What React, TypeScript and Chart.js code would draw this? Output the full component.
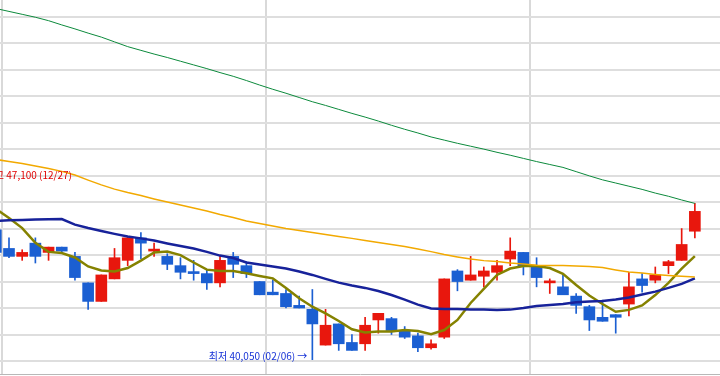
import React, { useEffect, useRef } from "react";
import { Chart, registerables } from "chart.js";
Chart.register(...registerables);

const dates = ["12/27","12/28","12/29","01/02","01/03","01/04","01/05","01/06","01/09","01/10","01/11","01/12","01/13","01/16","01/17","01/18","01/19","01/20","01/25","01/26","01/27","01/30","01/31","02/01","02/02","02/03","02/06","02/07","02/08","02/09","02/10","02/13","02/14","02/15","02/16","02/17","02/20","02/21","02/22","02/23","02/24","02/27","02/28","03/02","03/03","03/06","03/07","03/08","03/09","03/10","03/13","03/14","03/15","03/16","03/17","03/20"];

const opens = [46500,45900,44950,44250,43950,44450,44100,44300,43950,42950,42250,43100,43800,44650,44150,43950,43600,43350,43300,42950,43950,43600,43000,42600,42550,42100,41950,40600,41400,40700,40650,41550,41600,41150,40950,40500,40900,43400,43050,43200,43350,43850,44100,43550,42950,42800,42450,42050,41650,41750,42150,43100,43050,43600,43800,44900];
const highs = [47100,46300,45100,44650,44200,44650,44300,44300,44100,42950,43250,44250,44700,44850,44450,44050,43900,43800,43450,43950,44100,43750,43000,43050,42700,42450,42700,41950,41400,41000,41650,41800,41650,41300,41050,40800,43100,43450,43950,43550,43800,44650,44100,43900,43100,43250,42550,42100,42300,41750,43350,43300,43550,43800,45000,45950];
const lows = [46000,44850,44000,43900,43800,43700,43800,44100,43050,41950,42250,43100,43600,43850,43950,43450,43100,43050,42700,42800,43150,43150,42500,42500,42000,42000,40050,40600,40400,40400,40400,41050,41000,40850,40350,40450,40850,42650,43050,42800,43050,43600,43250,42800,42550,42500,41800,41150,41500,41050,41700,42600,42950,43300,43800,44650];
const closes = [46200,45000,44100,43950,44100,43950,44300,44150,43150,42250,43250,43900,44650,44450,44200,43650,43350,43300,42950,43800,43650,43300,42500,42500,42050,42000,41400,41350,40650,40400,41350,41800,41150,40900,40500,40650,43100,43000,43250,43400,43600,44150,43600,43150,43000,42500,42100,41550,41500,41650,42800,42850,43250,43750,44400,45650];

const ma5 = [46250,46000,45740,45400,45020,44460,44120,44080,43910,43570,43420,43380,43510,43790,44100,44130,44000,43720,43450,43400,43400,43310,43210,43120,42760,42370,42050,41800,41510,41200,41080,41110,41110,41170,41130,41010,41170,41550,42190,42720,43250,43490,43590,43590,43510,43290,42870,42470,42150,41860,41930,42100,42490,42950,43490,43960];
const ma20 = [45250,45270,45290,45310,45320,45340,45350,45360,45150,45020,44910,44800,44700,44630,44550,44440,44340,44250,44120,43980,43890,43720,43640,43570,43490,43380,43250,43100,42960,42850,42760,42640,42490,42320,42130,41980,41960,41960,41940,41940,41930,41940,42000,42080,42110,42150,42220,42250,42270,42320,42400,42510,42620,42760,42910,43120];
const ma60 = [47760,47690,47610,47530,47460,47360,47270,47160,47020,46830,46650,46490,46360,46250,46120,46000,45890,45780,45660,45530,45420,45290,45190,45100,45000,44930,44850,44780,44700,44630,44550,44470,44400,44320,44230,44130,44020,43930,43850,43790,43760,43700,43660,43620,43610,43610,43590,43570,43530,43440,43360,43320,43270,43230,43200,43170];
const ma120 = [53530,53420,53310,53200,53090,52980,52850,52690,52540,52380,52230,52050,51870,51730,51590,51460,51320,51180,51040,50890,50750,50590,50420,50260,50110,49950,49790,49650,49500,49350,49210,49060,48900,48750,48610,48460,48340,48220,48110,48000,47880,47770,47650,47530,47420,47310,47150,46990,46840,46720,46600,46480,46340,46220,46080,45950];

const gridPrices = [40000,41000,42000,43000,44000,45000,46000,47000,48000,49000,50000,51000,52000,53000];

const UP = "#e8170d";
const DOWN = "#1b5fd2";

const fmt = (v: number) => v.toLocaleString("en-US");

export default function App() {
  const ref = useRef<HTMLCanvasElement | null>(null);
  useEffect(() => {
    if (!ref.current) return;
    const idx = dates.map((_, i) => i);
    const monthBounds: number[] = [];
    for (let i = 1; i < dates.length; i++) {
      if (dates[i].slice(0, 2) !== dates[i - 1].slice(0, 2)) monthBounds.push(i - 0.5);
    }
    let hiI = 0, loI = 0;
    highs.forEach((v, i) => { if (v > highs[hiI]) hiI = i; });
    lows.forEach((v, i) => { if (v < lows[loI]) loI = i; });
    const colors = idx.map((i) => (closes[i] >= opens[i] ? UP : DOWN));

    const extremes = {
      id: "extremes",
      afterDatasetsDraw(chart: any) {
        const { ctx, scales } = chart;
        const x = scales.x, y = scales.y;
        ctx.save();
        ctx.font = '10px "Liberation Sans Narrow", "Noto Sans CJK KR"';
        ctx.textBaseline = "middle";
        ctx.fillStyle = "#1632d6";
        ctx.textAlign = "right";
        ctx.fillText(`최저 ${fmt(lows[loI])} (${dates[loI]}) →`, x.getPixelForValue(loI) - 5, y.getPixelForValue(lows[loI]) - 3);
        ctx.fillStyle = "#e00000";
        ctx.textAlign = "left";
        ctx.fillText(`← 최고 ${fmt(highs[hiI])} (${dates[hiI]})`, x.getPixelForValue(hiI) + 4, y.getPixelForValue(highs[hiI]) + 2);
        ctx.restore();
      },
    };

    const line = (data: number[], color: string, w: number) => ({
      type: "line" as const,
      data: idx.map((i) => ({ x: i, y: data[i] })),
      borderColor: color,
      borderWidth: w,
      pointRadius: 0,
      tension: 0,
      order: 0,
    });

    const chart = new Chart(ref.current, {
      type: "bar",
      data: {
        datasets: [
          line(ma120, "#0c8a3c", 1),
          line(ma60, "#f2a900", 1.5),
          line(ma20, "#17229a", 2.5),
          line(ma5, "#858200", 2.5),
          {
            type: "bar",
            data: idx.map((i) => ({ x: i, y: [lows[i], highs[i]] })),
            backgroundColor: colors,
            barThickness: 1,
            grouped: false,
            order: 2,
          } as any,
          {
            type: "bar",
            data: idx.map((i) => ({ x: i, y: [opens[i], closes[i]] })),
            backgroundColor: colors,
            barThickness: 11,
            minBarLength: 2,
            grouped: false,
            order: 1,
          } as any,
        ],
      },
      options: {
        animation: false,
        responsive: false,
        events: [],
        layout: { padding: { left: 0, right: 0, top: 0, bottom: 2 } },
        plugins: { legend: { display: false }, tooltip: { enabled: false } },
        scales: {
          x: {
            type: "linear",
            min: 2.318,
            max: 56.906,
            offset: false,
            ticks: { display: false },
            grid: { color: "#d9d9d9", lineWidth: 2, drawTicks: false, offset: false },
            border: { display: true, color: "#b8b8b8", width: 1 },
            afterBuildTicks: (s: any) => { s.ticks = monthBounds.map((v) => ({ value: v })); },
          },
          y: {
            type: "linear",
            min: 39509,
            max: 53631,
            ticks: { display: false },
            grid: { color: "#dedede", lineWidth: 2, drawTicks: false },
            border: { display: false },
            afterBuildTicks: (s: any) => { s.ticks = gridPrices.map((v) => ({ value: v })); },
          },
        },
      } as any,
      plugins: [extremes],
    });
    return () => chart.destroy();
  }, []);

  return (
    <div style={{ position: "fixed", left: 0, top: 0, width: 720, height: 376, background: "#fff" }}>
      <canvas ref={ref} width={720} height={376} style={{ display: "block" }} />
    </div>
  );
}
